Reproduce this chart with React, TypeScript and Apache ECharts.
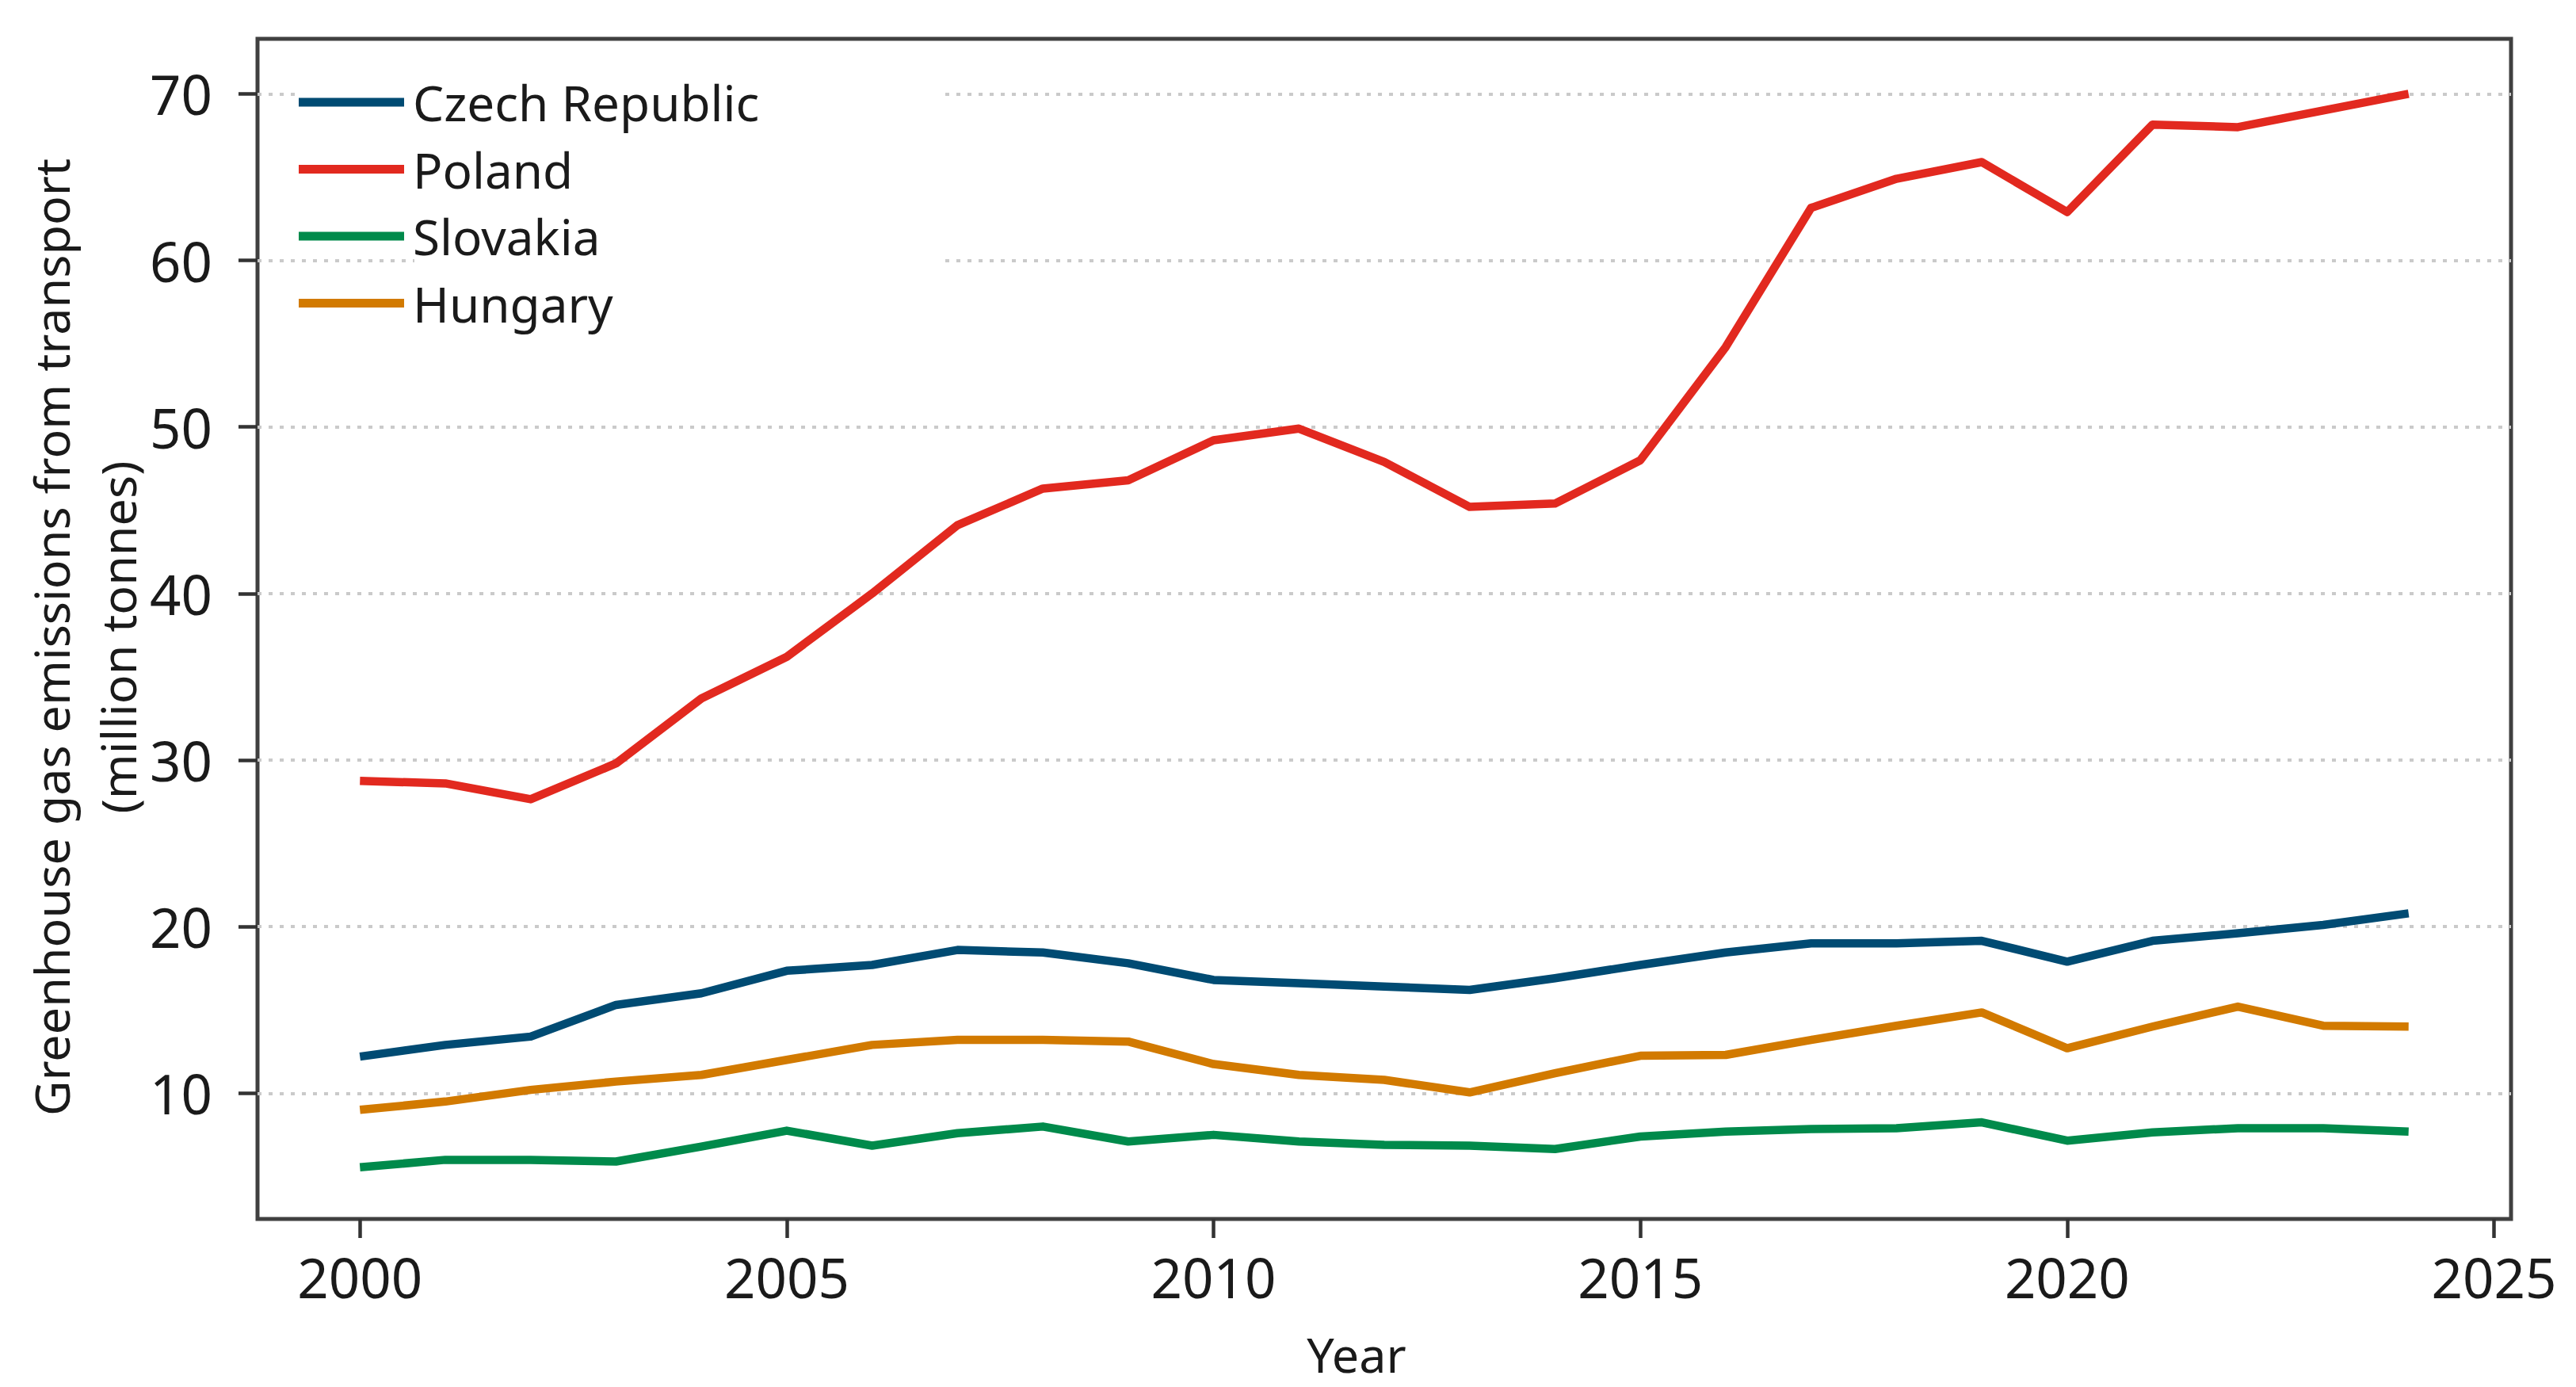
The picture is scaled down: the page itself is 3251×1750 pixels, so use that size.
import React, { useEffect, useRef } from "react";
import * as echarts from "echarts";

const years = [2000, 2001, 2002, 2003, 2004, 2005, 2006, 2007, 2008, 2009, 2010, 2011, 2012, 2013, 2014, 2015, 2016, 2017, 2018, 2019, 2020, 2021, 2022, 2023, 2024];
const czech = [12.2, 12.9, 13.4, 15.3, 16.0, 17.35, 17.7, 18.6, 18.45, 17.8, 16.8, 16.6, 16.4, 16.2, 16.9, 17.7, 18.45, 19.0, 19.0, 19.15, 17.9, 19.15, 19.6, 20.1, 20.8];
const poland = [28.75, 28.6, 27.65, 29.8, 33.7, 36.2, 40.0, 44.1, 46.3, 46.8, 49.2, 49.9, 47.9, 45.2, 45.4, 48.0, 54.8, 63.15, 64.9, 65.9, 62.9, 68.15, 68.0, 69.0, 70.0];
const slovakia = [5.55, 6.0, 6.0, 5.9, 6.8, 7.75, 6.85, 7.6, 8.0, 7.1, 7.5, 7.1, 6.9, 6.85, 6.65, 7.4, 7.7, 7.85, 7.9, 8.25, 7.15, 7.65, 7.9, 7.9, 7.7];
const hungary = [9.0, 9.5, 10.2, 10.7, 11.1, 12.0, 12.9, 13.2, 13.2, 13.1, 11.75, 11.1, 10.8, 10.05, 11.2, 12.25, 12.3, 13.2, 14.05, 14.85, 12.7, 14.0, 15.2, 14.05, 14.0];
const xTicks = [2000, 2005, 2010, 2015, 2020, 2025];
const yTicks = [10, 20, 30, 40, 50, 60, 70];
const seriesNames = ["Czech Republic", "Poland", "Slovakia", "Hungary"];
const seriesColors = ["#004b73", "#e2291f", "#008a4b", "#d27a00"];

const FONT = "'Noto Sans', 'Open Sans', sans-serif";

export default function App() {
  const ref = useRef<HTMLDivElement>(null);
  useEffect(() => {
    if (!ref.current) return;
    const chart = echarts.init(ref.current, undefined, { renderer: "svg" });
    const values = [czech, poland, slovakia, hungary];
    const lineSeries = seriesNames.map((name, i) => ({
      name,
      type: "line",
      data: years.map((y, j) => [y, values[i][j]]),
      showSymbol: false,
      symbol: "none",
      color: seriesColors[i],
      lineStyle: { width: 10.5, color: seriesColors[i], cap: "butt", join: "round" },
      z: 5,
    }));
    const option: any = {
      animation: false,
      backgroundColor: "#ffffff",
      grid: {
        left: 325,
        right: 82,
        top: 49,
        bottom: 212,
        show: true,
        borderColor: "#404040",
        borderWidth: 5,
        backgroundColor: "transparent",
        containLabel: false,
      },
      xAxis: {
        type: "value",
        min: 1998.8,
        max: 2025.2,
        axisLine: { show: false },
        splitLine: { show: false },
        axisTick: { show: true, customValues: xTicks, length: 24, lineStyle: { color: "#333", width: 4.5 } },
        axisLabel: {
          customValues: xTicks,
          margin: 38,
          fontFamily: FONT,
          fontSize: 69,
          color: "#1a1a1a",
          formatter: (v: number) => String(v),
        },
      },
      yAxis: {
        type: "value",
        min: 2.45,
        max: 73.3,
        axisLine: { show: false },
        splitLine: { show: false },
        axisTick: { show: true, customValues: yTicks, length: 24, lineStyle: { color: "#333", width: 4.5 } },
        axisLabel: {
          customValues: yTicks,
          margin: 57,
          fontFamily: FONT,
          fontSize: 69,
          color: "#1a1a1a",
          formatter: (v: number) => String(v),
        },
      },
      legend: {
        data: seriesNames,
        orient: "vertical",
        left: 372,
        top: 93,
        icon: "rect",
        itemWidth: 133,
        itemHeight: 11,
        itemGap: 22.5,
        textStyle: {
          fontFamily: FONT,
          fontSize: 62,
          lineHeight: 62,
          color: "#1a1a1a",
          padding: [0, 0, 0, 6],
        },
        z: 10,
      },
      graphic: [
        { type: "rect", z: 8, silent: true, shape: { x: 372, y: 95, width: 818, height: 105 }, style: { fill: "#ffffff" } },
        { type: "rect", z: 8, silent: true, shape: { x: 523, y: 200, width: 667, height: 145 }, style: { fill: "#ffffff" } },
        {
          type: "text",
          x: 64,
          y: 804,
          rotation: Math.PI / 2,
          style: {
            text: "Greenhouse gas emissions from transport",
            fontFamily: FONT,
            fontSize: 61,
            fill: "#1a1a1a",
            align: "center",
            verticalAlign: "middle",
          },
        },
        {
          type: "text",
          x: 148,
          y: 804,
          rotation: Math.PI / 2,
          style: {
            text: "(million tonnes)",
            fontFamily: FONT,
            fontSize: 61,
            fill: "#1a1a1a",
            align: "center",
            verticalAlign: "middle",
          },
        },
        {
          type: "text",
          x: 1712,
          y: 1708,
          style: {
            text: "Year",
            fontFamily: FONT,
            fontSize: 61,
            fill: "#1a1a1a",
            align: "center",
            verticalAlign: "middle",
          },
        },
      ],
      series: [
        {
          name: "grid",
          type: "line",
          data: [],
          z: 1,
          silent: true,
          markLine: {
            silent: true,
            symbol: ["none", "none"],
            label: { show: false },
            lineStyle: { color: "#cacaca", width: 4, type: [5, 9] },
            emphasis: { disabled: true },
            data: yTicks.map((v) => ({ yAxis: v })),
          },
        },
        ...lineSeries,
      ],
    };
    chart.setOption(option);
    return () => chart.dispose();
  }, []);
  return <div ref={ref} style={{ position: "fixed", left: 0, top: 0, width: "3251px", height: "1750px" }} />;
}
